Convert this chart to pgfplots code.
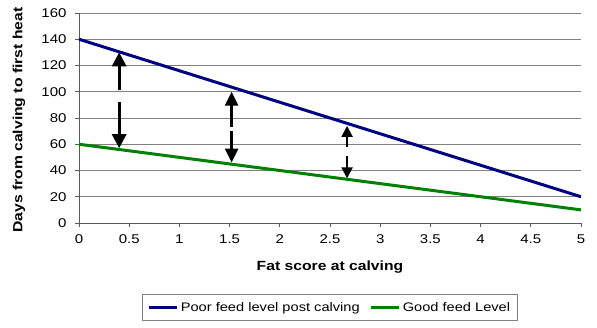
\documentclass[border=0pt]{standalone}
\usepackage{fontspec}
\setmainfont{Liberation Sans}[FakeStretch=1.18]
\usepackage{pgfplots}
\pgfplotsset{compat=1.18}
\usetikzlibrary{arrows.meta}
\definecolor{navyline}{RGB}{0,0,128}
\definecolor{greenline}{RGB}{0,128,0}
\definecolor{gridgray}{RGB}{128,128,128}
\begin{document}
\begin{tikzpicture}
\begin{axis}[
  at={(0pt,0pt)}, anchor=south west,
  scale only axis, width=502pt, height=210pt,
  xmin=0, xmax=5, ymin=0, ymax=160,
  xtick={0,0.5,...,5}, ytick={0,20,...,160},
  axis lines*=left,
  axis line style={gridgray!70!black, line width=0.8pt},
  ymajorgrids, major grid style={gridgray, line width=0.8pt},
  tick align=outside, major tick length=4pt,
  tick style={gridgray!70!black, line width=0.8pt},
  /pgf/number format/assume math mode=true,
  ticklabel style={font=\fontsize{12.7}{14}\selectfont},
  xticklabel style={yshift=-4.5pt},
  yticklabel style={xshift=-5pt},
  xlabel={\textbf{Fat score at calving}},
  ylabel={\textbf{Days from calving to first heat}},
  xlabel style={at={(axis description cs:0.5,-0.212)}, anchor=center, font=\fontsize{13.3}{15}\selectfont},
  ylabel style={at={(axis description cs:-0.1195,0.49)}, anchor=center, font=\fontsize{13.3}{15}\selectfont},
  legend columns=2,
  legend style={at={(axis description cs:0.5,-0.338)}, anchor=north, draw=gridgray, line width=0.8pt,
    font=\fontsize{12.4}{14}\selectfont, inner xsep=5pt, inner ysep=6pt,
    nodes={inner xsep=2pt},
    /tikz/every even column/.append style={column sep=8pt}},
  legend image code/.code={\draw[#1] (0pt,0pt) -- (28pt,0pt);},
  legend cell align=left,
]
\addplot[navyline, line width=3pt] coordinates {(0,140) (5,20)};
\addlegendentry{Poor feed level post calving}
\addplot[greenline, line width=3pt] coordinates {(0,60) (5,10)};
\addlegendentry{Good feed Level}
% arrows
\addplot[black, line width=3pt, -{Triangle[width=14pt,length=14pt]}, forget plot] coordinates {(0.4,101) (0.4,130)};
\addplot[black, line width=3pt, -{Triangle[width=14pt,length=14pt]}, forget plot] coordinates {(0.4,92) (0.4,57)};
\addplot[black, line width=2.6pt, -{Triangle[width=13pt,length=14pt]}, forget plot] coordinates {(1.52,73) (1.52,100)};
\addplot[black, line width=2.6pt, -{Triangle[width=13pt,length=14pt]}, forget plot] coordinates {(1.52,70) (1.52,46)};
\addplot[black, line width=2pt, -{Triangle[width=11pt,length=11pt]}, forget plot] coordinates {(2.67,58) (2.67,74)};
\addplot[black, line width=2pt, -{Triangle[width=11pt,length=11pt]}, forget plot] coordinates {(2.67,51) (2.67,34)};
\end{axis}
\pgfresetboundingbox
\useasboundingbox (-79pt,-105pt) rectangle (518pt,223pt);
\end{tikzpicture}
\end{document}
